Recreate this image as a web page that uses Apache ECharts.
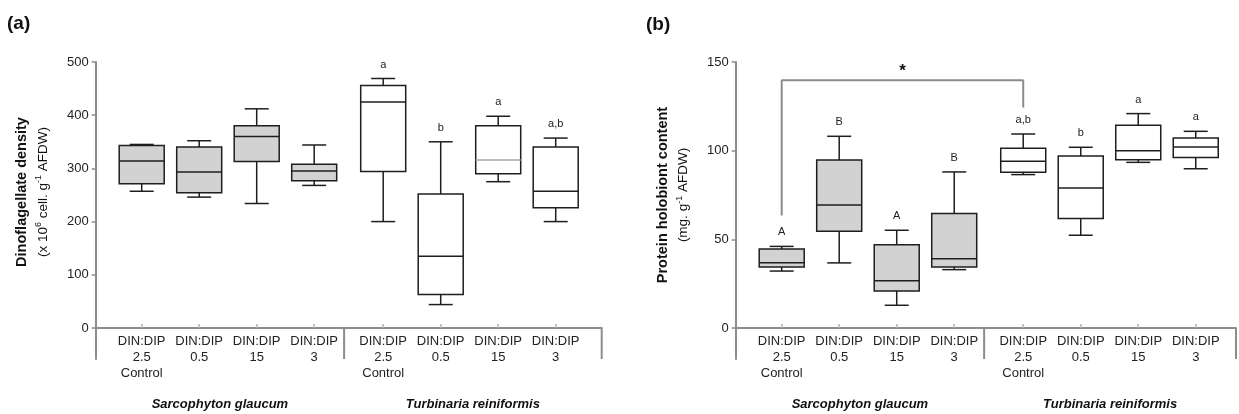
<!DOCTYPE html>
<html><head><meta charset="utf-8">
<script src="https://cdn.jsdelivr.net/npm/echarts@6/dist/echarts.min.js"></script>
<style>html,body{margin:0;padding:0;background:#fff}#c{width:1239px;height:414px}</style>
</head><body><div id="c"></div>
<script>
// ---------- data ----------
const categories = ['DIN:DIP\n2.5\nControl','DIN:DIP\n0.5','DIN:DIP\n15','DIN:DIP\n3',
                    'DIN:DIP\n2.5\nControl','DIN:DIP\n0.5','DIN:DIP\n15','DIN:DIP\n3'];
const xPositions = [1, 2, 3, 4, 5.2, 6.2, 7.2, 8.2];
const groupSeparators = [4.52];
const species = ['Sarcophyton glaucum', 'Turbinaria reiniformis'];
const speciesOfBox = [0, 0, 0, 0, 1, 1, 1, 1];

// (a) Dinoflagellate density (x 10^6 cell. g-1 AFDW)
const densityMin    = [257, 246, 234, 268, 200,  44, 275, 200];
const densityQ1     = [271, 254, 313, 277, 294,  63, 290, 226];
const densityMedian = [314, 293, 360, 295, 425, 135, 316, 257];
const densityQ3     = [343, 340, 380, 308, 456, 252, 380, 340];
const densityMax    = [345, 352, 412, 344, 469, 350, 398, 357];
const densityLetters = ['', '', '', '', 'a', 'b', 'a', 'a,b'];
const densityTicks = [0, 100, 200, 300, 400, 500];

// (b) Protein holobiont content (mg. g-1 AFDW)
const proteinMin    = [32.1, 36.7, 12.8, 32.9,  86.5, 52.3,  93.4,  89.8];
const proteinQ1     = [34.4, 54.5, 20.9, 34.4,  87.8, 61.7,  94.9,  96.2];
const proteinMedian = [36.8, 69.4, 26.7, 39.1,  94.0, 79.0, 100.0, 102.1];
const proteinQ3     = [44.5, 94.7, 47.0, 64.5, 101.3, 97.0, 114.3, 107.1];
const proteinMax    = [46.0,108.1, 55.1, 88.0, 109.4,101.9, 120.9, 110.9];
const proteinLetters = ['A', 'B', 'A', 'B', 'a,b', 'b', 'a', 'a'];
const proteinTicks = [0, 50, 100, 150];

const bracketB = [[1, 63.5], [1, 139.7], [5.2, 139.7], [5.2, 124.3]];
const bracketMarkB = [[3.1, 144.9]];

// ---------- styles ----------
const FONT = '"Liberation Sans", Arial, sans-serif';
const AXIS_GRAY = '#8c8c8c';
const STROKE = '#1e1e1e';
const FILLS = ['#d2d2d2', '#ffffff'];
const BOX_W = 45, CAP_W = 24, LW = 1.5;
const medianColorsA = {6: '#a8a8a8'};
const medianColorsB = {};

const panels = [
  {grid: {left: 95.7, top: 62, width: 506, height: 297}, xMin: 0.2, xMax: 9.0, yMin: -58.3, yMax: 500,
   ticks: densityTicks, mins: densityMin, q1: densityQ1, med: densityMedian, q3: densityQ3, maxs: densityMax,
   letters: densityLetters, medianColors: medianColorsA},
  {grid: {left: 735.7, top: 62, width: 500.3, height: 297}, xMin: 0.2, xMax: 8.9, yMin: -17.5, yMax: 150,
   ticks: proteinTicks, mins: proteinMin, q1: proteinQ1, med: proteinMedian, q3: proteinQ3, maxs: proteinMax,
   letters: proteinLetters, medianColors: medianColorsB}
];

function labelFor(v) {
  for (let i = 0; i < xPositions.length; i++) if (Math.abs(xPositions[i] - v) < 1e-6) return categories[i];
  return '';
}

function boxRender(p) {
  return function (params, api) {
    const i = params.dataIndex;
    const x = api.value(0);
    const pts = [1, 2, 3, 4, 5].map(d => api.coord([x, api.value(d)]));
    const cx = pts[0][0];
    const yMin = pts[0][1], yQ1 = pts[1][1], yMed = pts[2][1], yQ3 = pts[3][1], yMax = pts[4][1];
    const hb = BOX_W / 2, hc = CAP_W / 2;
    const ls = {stroke: STROKE, lineWidth: LW};
    const children = [
      {type: 'line', shape: {x1: cx, y1: yQ3, x2: cx, y2: yMax}, style: ls},
      {type: 'line', shape: {x1: cx - hc, y1: yMax, x2: cx + hc, y2: yMax}, style: ls},
      {type: 'line', shape: {x1: cx, y1: yQ1, x2: cx, y2: yMin}, style: ls},
      {type: 'line', shape: {x1: cx - hc, y1: yMin, x2: cx + hc, y2: yMin}, style: ls},
      {type: 'rect', shape: {x: cx - hb, y: yQ3, width: 2 * hb, height: yQ1 - yQ3},
       style: {fill: FILLS[speciesOfBox[i]], stroke: STROKE, lineWidth: LW}},
      {type: 'line', shape: {x1: cx - hb, y1: yMed, x2: cx + hb, y2: yMed},
       style: {stroke: p.medianColors[i] || STROKE, lineWidth: LW}}
    ];
    if (p.letters[i]) {
      children.push({type: 'text', style: {x: cx, y: yMax - 14, text: p.letters[i], fontSize: 11,
        fontFamily: FONT, fill: '#222', align: 'center', verticalAlign: 'middle'}});
    }
    return {type: 'group', children};
  };
}

const grids = [], xAxes = [], yAxes = [], series = [];
panels.forEach((p, k) => {
  grids.push(p.grid);
  xAxes.push({
    type: 'value', gridIndex: k, min: p.xMin, max: p.xMax,
    axisLine: {show: true, onZero: true, lineStyle: {color: AXIS_GRAY, width: 2}},
    axisTick: {show: true, customValues: xPositions, inside: true, length: 4, lineStyle: {color: '#b0b0b0', width: 1.5}},
    axisLabel: {show: true, customValues: xPositions, formatter: labelFor, margin: -25.3,
      fontSize: 13, lineHeight: 16, color: '#222', fontFamily: FONT, align: 'center', verticalAlign: 'top'},
    splitLine: {show: false}
  });
  yAxes.push({
    type: 'value', gridIndex: k, min: p.yMin, max: p.yMax,
    axisLine: {show: true, onZero: false, lineStyle: {color: AXIS_GRAY, width: 2}},
    axisTick: {show: true, customValues: p.ticks, length: 4, lineStyle: {color: AXIS_GRAY, width: 1.5}},
    axisLabel: {show: true, customValues: p.ticks, margin: 7, fontSize: 13, color: '#222', fontFamily: FONT},
    splitLine: {show: false}
  });
  series.push({
    type: 'custom', xAxisIndex: k, yAxisIndex: k, renderItem: boxRender(p), clip: false,
    encode: {x: 0, y: [1, 2, 3, 4, 5]},
    data: xPositions.map((x, i) => [x, p.mins[i], p.q1[i], p.med[i], p.q3[i], p.maxs[i]])
  });
  // group separators (from y=0 down to the axis bottom) and group labels
  const seps = groupSeparators.concat([p.xMax]);
  series.push({
    type: 'custom', xAxisIndex: k, yAxisIndex: k, clip: false, silent: true,
    encode: {x: 0, y: 1},
    data: seps.map(s => [s, 0]),
    renderItem: function (params, api) {
      const a = api.coord([api.value(0), 0]);
      const b = api.coord([api.value(0), p.yMin]);
      return {type: 'line', shape: {x1: a[0], y1: a[1], x2: b[0], y2: b[1]}, style: {stroke: AXIS_GRAY, lineWidth: 2}};
    }
  });
  const bounds = [p.xMin].concat(groupSeparators).concat([p.xMax]);
  series.push({
    type: 'custom', xAxisIndex: k, yAxisIndex: k, clip: false, silent: true,
    encode: {x: 0, y: 1},
    data: species.map((s, j) => [(bounds[j] + bounds[j + 1]) / 2, p.yMin, j]),
    renderItem: function (params, api) {
      const c = api.coord([api.value(0), api.value(1)]);
      return {type: 'text', style: {x: c[0], y: c[1] + 45, text: species[api.value(2)],
        fontSize: 13, fontWeight: 'bold', fontStyle: 'italic', fontFamily: FONT, fill: '#111',
        align: 'center', verticalAlign: 'middle'}};
    }
  });
});

series.push({
  type: 'line', xAxisIndex: 1, yAxisIndex: 1, data: bracketB, symbol: 'none', silent: true,
  lineStyle: {color: AXIS_GRAY, width: 2}, z: 1
});
series.push({
  type: 'custom', xAxisIndex: 1, yAxisIndex: 1, clip: false, silent: true,
  encode: {x: 0, y: 1}, data: bracketMarkB,
  renderItem: function (params, api) {
    const c = api.coord([api.value(0), api.value(1)]);
    return {type: 'text', style: {x: c[0], y: c[1], text: '*', fontSize: 17, fontWeight: 'bold',
      fontFamily: FONT, fill: '#111', align: 'center', verticalAlign: 'middle'}};
  }
});

const titleRich = (size) => ({
  b: {fontSize: size, fontWeight: 'bold', fontFamily: FONT, fill: '#111', lineHeight: 21},
  n: {fontSize: 13.5, fontFamily: FONT, fill: '#111', lineHeight: 21},
  s: {fontSize: 9, fontFamily: FONT, fill: '#111', lineHeight: 21, verticalAlign: 'top', padding: [2, 0, 0, 0]}
});

const option = {
  animation: false,
  backgroundColor: '#fff',
  grid: grids, xAxis: xAxes, yAxis: yAxes, series: series,
  graphic: [
    {type: 'text', left: 7, top: 14, style: {text: '(a)', fontSize: 19, fontWeight: 'bold', fontFamily: FONT, fill: '#111'}},
    {type: 'text', left: 646, top: 15, style: {text: '(b)', fontSize: 19, fontWeight: 'bold', fontFamily: FONT, fill: '#111'}},
    {type: 'text', x: 32.5, y: 192, rotation: Math.PI / 2,
     style: {text: '{b|Dinoflagellate density}\n{n|(x 10}{s|6}{n| cell. g}{s|-1}{n| AFDW)}',
       rich: titleRich(14.5), align: 'center', verticalAlign: 'middle'}},
    {type: 'text', x: 673, y: 195, rotation: Math.PI / 2,
     style: {text: '{b|Protein holobiont content}\n{n|(mg. g}{s|-1}{n| AFDW)}',
       rich: titleRich(14.5), align: 'center', verticalAlign: 'middle'}}
  ]
};

const chart = echarts.init(document.getElementById('c'), null, {renderer: 'canvas'});
chart.setOption(option);
</script>
</body></html>
